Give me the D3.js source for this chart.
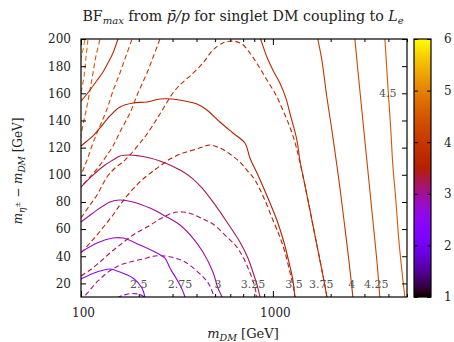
<!DOCTYPE html>
<html>
<head>
<meta charset="utf-8">
<script src="https://cdn.jsdelivr.net/npm/d3@7"></script>
<style>
  body { margin: 0; background: #fff; }
</style>
</head>
<body>
<svg id="chart" width="454" height="342"></svg>
<script>
// ---- data: contour lines, points are [m_DM, m_eta - m_DM] ----
// solid set
const s250 = [[100,23.3],[121.2,28.4],[141.6,30.6],[159.6,28.4],[186.6,24],[207.8,16.6],[215.4,10],[217,8]];
const s275 = [[100,43.1],[121.2,49.8],[146.8,53.4],[165.5,53.4],[202.9,48.3],[248.8,42.4],[273.8,38.7],[290.7,31.4],[327.9,18.8],[348.1,10],[350,8]];
const s300 = [[100,65.2],[115.5,71.9],[141.6,80],[159.6,81.4],[186.6,80],[228.8,75.5],[273.8,69.7],[327.9,63],[383.1,53.4],[431.9,43.1],[487,28.4],[517,16.6],[542.5,10],[546,8]];
const s325 = [[100,91],[115.5,99.8],[133.4,107.2],[146.8,110.9],[159.6,113.8],[180,114.6],[202.9,113.8],[228.8,112.4],[257.9,110.2],[297.8,106.5],[335.7,102.8],[378.6,97.6],[426.8,90.3],[487,80],[576,65.2],[673.3,50.5],[741,38.7],[796.2,26.2],[835.7,16.6],[855.9,10],[860,8]];
const s350 = [[100,121.2],[107.5,124.9],[115.5,128.6],[125.6,134.5],[141.6,143.3],[159.6,149.9],[186.6,152.9],[220.7,153.6],[257.9,155.8],[297.8,155.8],[348.1,154.3],[402,152.1],[453.2,147.7],[529.6,138.9],[619,130.8],[714.8,123.4],[759.1,112.4],[835.7,99.8],[941.9,82.9],[1049,66.7],[1141,50.5],[1212,35.8],[1271,22.5],[1302,10],[1306,8]];
const s375a = [[100,154.3],[107.5,159.5],[115.5,165.4],[122.6,170.5],[130.2,175.7],[138.2,182.3],[146.8,189.7],[155.9,200],[161.6,205.9]];
const s375b = [[835.7,205.2],[866,199.3],[930.7,186.7],[1012,175.7],[1087.6,167.6],[1169,156.5],[1226,145.5],[1334,125.6],[1382,110.9],[1468,92.5],[1559,74.1],[1655,55.7],[1758,37.2],[1843,22.5],[1911,10],[1915,8]];
const s400 = [[1695,205.2],[1716,200],[1800,184.5],[1911,157.3],[2029,133],[2154,107.2],[2261,85.1],[2371,61.5],[2488,37.2],[2610,10],[2615,8]];
const s425 = [[2642,205.2],[2673,200],[2772,177.2],[2907,147.7],[3050,118.3],[3162,96.2],[3318,66.7],[3481,37.2],[3609,10],[3615,8]];
const s450 = [[3786,205.2],[3831,200],[3925,177.2],[4020,155.1],[4118,133],[4217,107.2],[4372,81.4],[4533,52],[4698,29.9],[4870,10],[4880,8]];

// dashed set
const d250 = [[154,9.3],[167.5,11.5],[184.4,12.6],[202.9,11.8],[218,9.3]];
const d300 = [[98.8,7],[103.7,10],[111.4,15.2],[122.6,21.8],[136.6,27.7],[155.9,32.8],[180,35.8],[210.3,38],[242.9,40.2],[273.8,40.2],[308.7,38.7],[348.1,35.8],[402,29.1],[442.4,23.3],[469.8,18.1],[492.9,10],[495,8]];
const d325 = [[100,25.5],[111.4,29.9],[125.6,35.8],[141.6,42.4],[159.6,48.3],[186.6,55.7],[220.7,61.5],[257.9,67.4],[301.4,71.9],[339.9,72.6],[378.6,71.1],[431.9,67.4],[487,63.8],[576,54.2],[641.7,47.6],[698.1,39.5],[749.9,29.9],[796.2,19.6],[825.4,10],[828,8]];
const d350 = [[100,42.4],[111.4,49.8],[121.2,55.7],[133.4,63],[146.8,70.4],[159.6,77.8],[173.6,84.4],[191.1,91],[210.3,96.9],[234.3,102.1],[257.9,106.5],[290.7,111.6],[339.9,116],[402,119],[469.8,121.9],[529.6,119.7],[597,115.3],[673.3,109.4],[732.2,103.5],[806.1,96.2],[898,82.9],[1000,66.7],[1087.6,54.2],[1154.8,43.1],[1226.4,28.4],[1287,15.2],[1302,10],[1306,8]];
const d375 = [[100,68.2],[111.4,77.8],[121.2,85.1],[136.6,98.4],[150.4,105],[165.5,109.4],[180,114.6],[202.9,123.4],[220.7,130],[242.9,138.9],[257.9,144.8],[277.2,152.1],[301.4,160.2],[331.8,166.9],[369.6,172.7],[431.9,182.3],[487,191.9],[549.1,197.1],[619,198.5],[689.7,196.3],[759.1,189.7],[835.7,180.9],[930.7,169.8],[1037,158.8],[1127,147.7],[1226,135.2],[1302,124.1],[1366,112.4],[1468,92.5],[1559,74.1],[1655,55.7],[1758,37.2],[1843,22.5],[1911,10],[1915,8]];
const d400 = [[267.3,205.2],[257.9,200],[240,188.2],[220.7,175],[198.1,160.2],[180,145.5],[161.6,133],[146.8,121.2],[133.4,112.4],[121.2,104.3],[110.1,97.6],[100,91],[98,89]];
const d425 = [[188.8,205.2],[184.4,200],[171.6,187.5],[159.6,175],[146.8,161.7],[136.6,148.4],[125.6,135.9],[115.5,123.4],[107.5,110.9],[100,99.8],[98,97]];
const d450 = [[127.1,205.2],[125.6,200],[119.7,187.5],[115.5,175],[111.4,162.4],[107.5,150.7],[103.7,140.3],[100,129.3],[99,126]];
const d475 = [[110.1,205.2],[108.8,200],[106.2,186.7],[103.7,172.7],[100,160.2],[99,157]];
const d500 = [[106.2,205.2],[104.9,200],[102.4,191.9],[100,186.7],[99,184]];

// contour labels
const labelText = ["2.5", "2.75", "3", "3.25", "3.5", "3.75", "4", "4.25", "4.5"];
const labelMass = [200, 328, 517, 787, 1287, 1789, 2577, 3459, 3972];
const labelGap  = [19.6, 19.6, 19.6, 19.6, 19.6, 19.6, 19.6, 19.6, 160];

// ticks
const xMajor = [100, 1000];
const xMinor = [200, 300, 400, 500, 600, 700, 800, 900, 2000, 3000, 4000, 5000];
const yTicks = [20, 40, 60, 80, 100, 120, 140, 160, 180, 200];
const cbTicks = [1, 2, 3, 4, 5, 6];

const solidLines = [
  {level: 2.5, pts: s250}, {level: 2.75, pts: s275}, {level: 3, pts: s300},
  {level: 3.25, pts: s325}, {level: 3.5, pts: s350}, {level: 3.75, pts: s375a},
  {level: 3.75, pts: s375b}, {level: 4, pts: s400}, {level: 4.25, pts: s425},
  {level: 4.5, pts: s450}
];
const dashedLines = [
  {level: 2.5, pts: d250}, {level: 3, pts: d300}, {level: 3.25, pts: d325},
  {level: 3.5, pts: d350}, {level: 3.75, pts: d375}, {level: 4, pts: d400},
  {level: 4.25, pts: d425}, {level: 4.5, pts: d450}, {level: 4.75, pts: d475},
  {level: 5, pts: d500}
];

const serif = "'DejaVu Serif', serif";

// gnuplot default palette (rgbformulae 7,5,15) over cbrange [1:6]
function pal(v) {
  const t = Math.max(0, Math.min(1, (v - 1) / 5));
  const r = Math.sqrt(t), g = t * t * t, b = Math.max(0, Math.sin(2 * Math.PI * t));
  return d3.rgb(255 * r, 255 * g, 255 * b).formatHex();
}

const svg = d3.select("#chart");
const pLeft = 81, pRight = 407, pTop = 39, pBottom = 297;

const x = d3.scaleLog().domain([100, 5000]).range([pLeft, pRight]);
const y = d3.scaleLinear().domain([10, 200]).range([pBottom, pTop]);

svg.append("clipPath").attr("id", "plotclip")
  .append("rect").attr("x", pLeft).attr("y", pTop)
  .attr("width", pRight - pLeft).attr("height", pBottom - pTop);

const line = d3.line()
  .x(d => x(d[0]))
  .y(d => y(d[1]))
  .curve(d3.curveCatmullRom.alpha(0.5));

const plot = svg.append("g").attr("clip-path", "url(#plotclip)");

plot.selectAll("path.dashed")
  .data(dashedLines)
  .enter()
  .append("path")
  .attr("class", "dashed")
  .attr("d", d => line(d.pts))
  .attr("fill", "none")
  .attr("stroke", d => pal(d.level))
  .attr("stroke-width", 1.1)
  .attr("stroke-dasharray", "5,3");

plot.selectAll("path.solid")
  .data(solidLines)
  .enter()
  .append("path")
  .attr("class", "solid")
  .attr("d", d => line(d.pts))
  .attr("fill", "none")
  .attr("stroke", d => pal(d.level))
  .attr("stroke-width", 1.1);

// contour labels
svg.selectAll("text.clabel")
  .data(labelText)
  .enter()
  .append("text")
  .attr("class", "clabel")
  .attr("x", (d, i) => x(labelMass[i]))
  .attr("y", (d, i) => y(labelGap[i]))
  .attr("dy", "0.35em")
  .attr("text-anchor", "middle")
  .style("font-family", serif)
  .style("font-size", "11px")
  .style("fill", "#555")
  .text(d => d);

// axes (inward ticks, mirrored)
function clean(g) {
  g.select(".domain").remove();
  g.attr("font-family", serif);
  g.selectAll("text").style("font-family", serif).style("font-size", "12px").attr("fill", "#222");
}

svg.append("g").attr("transform", `translate(0,${pBottom})`)
  .call(d3.axisBottom(x).tickValues(xMajor).tickSizeInner(-6).tickSizeOuter(0).tickPadding(11).tickFormat(d3.format("d")))
  .call(clean)
  .call(g => g.selectAll("text").attr("dx", 2));
svg.append("g").attr("transform", `translate(0,${pBottom})`)
  .call(d3.axisBottom(x).tickValues(xMinor).tickSizeInner(-3).tickSizeOuter(0).tickFormat(""))
  .call(clean);
svg.append("g").attr("transform", `translate(0,${pTop})`)
  .call(d3.axisTop(x).tickValues(xMajor).tickSizeInner(-6).tickSizeOuter(0).tickFormat(""))
  .call(clean);
svg.append("g").attr("transform", `translate(0,${pTop})`)
  .call(d3.axisTop(x).tickValues(xMinor).tickSizeInner(-3).tickSizeOuter(0).tickFormat(""))
  .call(clean);

svg.append("g").attr("transform", `translate(${pLeft},0)`)
  .call(d3.axisLeft(y).tickValues(yTicks).tickSizeInner(-5).tickSizeOuter(0).tickPadding(10))
  .call(clean);
svg.append("g").attr("transform", `translate(${pRight},0)`)
  .call(d3.axisRight(y).tickValues(yTicks).tickSizeInner(-5).tickSizeOuter(0).tickFormat(""))
  .call(clean);

svg.append("rect")
  .attr("x", pLeft).attr("y", pTop)
  .attr("width", pRight - pLeft).attr("height", pBottom - pTop)
  .attr("fill", "none").attr("stroke", "#000").attr("stroke-width", 1.2);

// colour box
const cbLeft = 414, cbRight = 431;
const cb = d3.scaleLinear().domain([1, 6]).range([pBottom, pTop]);
const grad = svg.append("defs").append("linearGradient")
  .attr("id", "cbgrad").attr("x1", 0).attr("y1", 1).attr("x2", 0).attr("y2", 0);
grad.selectAll("stop")
  .data(d3.range(0, 1.0001, 0.02))
  .enter()
  .append("stop")
  .attr("offset", d => d)
  .attr("stop-color", d => pal(1 + 5 * d));

svg.append("rect")
  .attr("x", cbLeft).attr("y", pTop)
  .attr("width", cbRight - cbLeft).attr("height", pBottom - pTop)
  .attr("fill", "url(#cbgrad)").attr("stroke", "#000").attr("stroke-width", 1.2);

svg.append("g").attr("transform", `translate(${cbRight},0)`)
  .call(d3.axisRight(cb).tickValues(cbTicks).tickSizeInner(-4).tickSizeOuter(0).tickPadding(13).tickFormat(d3.format("d")))
  .call(clean);
svg.append("g").attr("transform", `translate(${cbLeft},0)`)
  .call(d3.axisLeft(cb).tickValues(cbTicks).tickSizeInner(-4).tickSizeOuter(0).tickFormat(""))
  .call(clean);

// title
const title = svg.append("text")
  .attr("x", 243).attr("y", 21)
  .attr("text-anchor", "middle")
  .style("font-family", serif)
  .style("font-size", "14.2px")
  .attr("fill", "#222");
title.append("tspan").text("BF");
title.append("tspan").attr("dy", 3).style("font-size", "10px").style("font-style", "italic").text("max");
title.append("tspan").attr("dy", -3).text(" from ");
title.append("tspan").style("font-style", "italic").text("p\u0304/p");
title.append("tspan").text(" for singlet DM coupling to ");
title.append("tspan").style("font-style", "italic").text("L");
title.append("tspan").attr("dy", 3).style("font-size", "10px").style("font-style", "italic").text("e");

// x label
const xl = svg.append("text")
  .attr("x", 243).attr("y", 338)
  .attr("text-anchor", "middle")
  .style("font-family", serif)
  .style("font-size", "13px")
  .attr("fill", "#222");
xl.append("tspan").style("font-style", "italic").text("m");
xl.append("tspan").attr("dy", 3).style("font-size", "9.5px").style("font-style", "italic").text("DM");
xl.append("tspan").attr("dy", -3).text(" [GeV]");

// y label
const yl = svg.append("text")
  .attr("transform", "translate(22,171) rotate(-90)")
  .attr("text-anchor", "middle")
  .style("font-family", serif)
  .style("font-size", "12px")
  .attr("fill", "#222");
yl.append("tspan").style("font-style", "italic").text("m");
yl.append("tspan").attr("dy", 3).style("font-size", "9px").style("font-style", "italic").text("\u03b7");
yl.append("tspan").attr("dy", -5).style("font-size", "7px").text("\u00b1");
yl.append("tspan").attr("dy", 2).text(" \u2212 ");
yl.append("tspan").style("font-style", "italic").text("m");
yl.append("tspan").attr("dy", 3).style("font-size", "9px").style("font-style", "italic").text("DM");
yl.append("tspan").attr("dy", -3).text(" [GeV]");
</script>
</body>
</html>
